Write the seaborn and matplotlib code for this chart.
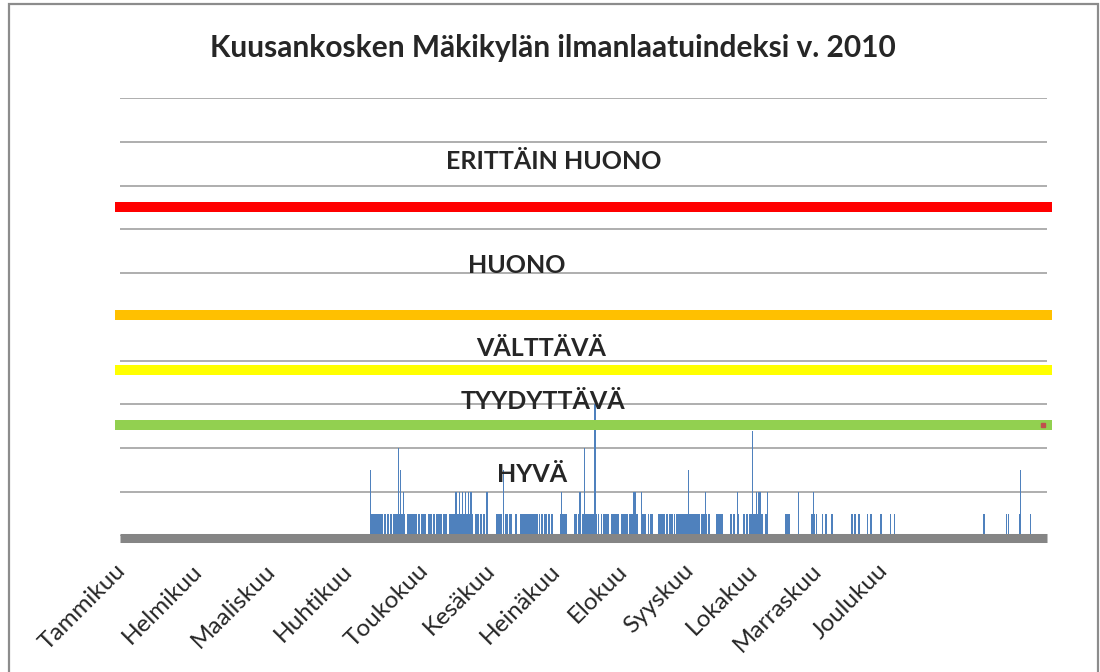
import matplotlib
matplotlib.use("Agg")
import matplotlib.pyplot as plt
import seaborn as sns
import pandas as pd
from matplotlib.patches import Rectangle
from matplotlib.transforms import ScaledTranslation

# --- data -------------------------------------------------------------------
months = ["Tammikuu", "Helmikuu", "Maaliskuu", "Huhtikuu", "Toukokuu", "Kesäkuu",
          "Heinäkuu", "Elokuu", "Syyskuu", "Lokakuu", "Marraskuu", "Joulukuu"]
month_pos = [2, 32, 61, 91, 121, 147.5, 173, 199.5, 225.5, 250.5, 276, 302]

# periods (day of year) with a "good" index reading
typical_index = 12.5
run_start = [98.8, 103.9, 105.0, 106.3, 107.6, 108.3, 113.1, 117.4, 118.4, 121.4, 123.1,
             124.4, 127.3, 129.6, 139.8, 141.7, 142.8, 148.0, 150.8, 151.6, 153.2, 155.5,
             157.5, 165.0, 165.8, 166.8, 168.4, 169.6, 173.2, 178.7, 180.2, 181.8, 188.3,
             189.3, 190.2, 193.2, 197.1, 200.5, 205.4, 207.7, 208.7, 211.9, 215.0, 216.3,
             218.1, 218.9, 224.1, 228.7, 229.6, 231.6, 234.6, 240.1, 241.2, 242.8, 245.4,
             246.4, 247.8, 253.9, 261.8, 272.1, 274.0, 276.4, 277.6, 279.8, 288.0, 289.1,
             290.7, 294.0, 295.5, 299.2, 303.0, 304.6, 339.7, 343.2, 348.7, 349.6, 353.8,
             358.4]
run_end = [103.4, 104.7, 106.0, 107.0, 108.1, 112.2, 116.8, 118.1, 120.4, 122.7, 124.0,
           126.7, 128.6, 139.1, 141.5, 142.4, 143.7, 150.4, 151.2, 152.8, 154.3, 156.3,
           164.6, 165.4, 166.5, 168.1, 169.3, 170.5, 176.0, 179.9, 181.1, 187.8, 188.6,
           189.6, 192.5, 196.6, 200.1, 204.1, 207.3, 208.4, 209.7, 214.6, 215.9, 217.8,
           218.5, 223.7, 228.4, 229.4, 231.0, 232.5, 237.5, 241.0, 242.1, 243.8, 246.0,
           247.4, 253.3, 254.6, 263.8, 273.7, 274.5, 276.9, 278.2, 280.6, 288.6, 289.6,
           291.2, 294.6, 296.2, 299.9, 303.5, 305.2, 340.7, 343.5, 349.2, 350.1, 354.6,
           358.8]

# short higher readings
peak_day = [98.8, 109.8, 110.3, 111.5, 132.3, 133.6, 134.8, 136.1, 137.2, 138.2, 144.5,
            151.0, 173.9, 181.1, 182.9, 187.0, 202.4, 203.0, 205.5, 223.8, 230.4, 243.0,
            249.0, 250.6, 251.6, 252.2, 254.8, 267.1, 273.2, 354.6]
peak_value = [37.5, 50, 37.5, 25, 25, 25, 25, 25, 25, 25, 25,
              37.5, 25, 25, 50, 75, 25, 25, 25, 37.5, 25, 25,
              60, 25, 25, 25, 25, 25, 25, 37.5]

# class boundaries of the air quality index
limit_name = ["hyvä", "tyydyttävä", "välttävä", "huono"]
limit_value = [63, 94.5, 126, 188]
limit_color = ["#92d050", "#ffff00", "#ffc000", "#ff0000"]
base_value = 0

class_name = ["ERITTÄIN HUONO", "HUONO", "VÄLTTÄVÄ", "TYYDYTTÄVÄ", "HYVÄ"]

# --- figure -----------------------------------------------------------------
sns.set_style("white")
plt.rcParams["font.family"] = ["Lato", "DejaVu Sans"]

W, H = 1100, 672
fig = plt.figure(figsize=(W / 100, H / 100), dpi=100)
ax = fig.add_axes([120 / W, 136.3 / H, 927 / W, 437.7 / H])

bar_color = "#4f81bd"
run_width = [e - s for s, e in zip(run_start, run_end)]
ax.bar(run_start, [typical_index] * len(run_start), width=run_width,
       align="edge", color=bar_color, linewidth=0, zorder=2)
ax.bar(peak_day, peak_value, width=0.45, color=bar_color, linewidth=0, zorder=2)

limits = pd.DataFrame({
    "päivä": [0, 365] * len(limit_value),
    "indeksi": [v for v in limit_value for _ in range(2)],
    "raja": [n for n in limit_name for _ in range(2)],
})
sns.lineplot(data=limits, x="päivä", y="indeksi", hue="raja",
             palette=dict(zip(limit_name, limit_color)), linewidth=7.2,
             legend=False, ax=ax, solid_capstyle="projecting", clip_on=False,
             zorder=3, estimator=None)
base_line = sns.lineplot(x=[0, 365], y=[base_value, base_value], color="#858585",
                         linewidth=6.5, ax=ax, solid_capstyle="butt", clip_on=False,
                         zorder=3).lines[-1]
# the base line sits a couple of pixels below the zero gridline
base_line.set_transform(ax.transData + ScaledTranslation(0, -2.5 / 100, fig.dpi_scale_trans))
ax.plot([363.5], [limit_value[0]], marker="s", ms=3.5, color="#c0504d",
        zorder=4, clip_on=False)

ax.set_xlim(0, 365)
ax.set_ylim(0, 250)
ax.set_yticks(range(0, 251, 25))
ax.yaxis.grid(True, color="#a8a8a8", linewidth=1.3, zorder=1)
ax.set_axisbelow(True)
ax.set_xticks(month_pos)
ax.set_xticklabels(months, rotation=45, ha="right", va="top",
                   rotation_mode="anchor", fontsize=17.5)
ax.tick_params(left=False, labelleft=False, bottom=False, pad=14)
shift = ScaledTranslation(-10 / 100, 0, fig.dpi_scale_trans)
for lbl in ax.get_xticklabels():
    lbl.set_transform(lbl.get_transform() + shift)
ax.set_xlabel("")
ax.set_ylabel("")
for sp in ax.spines.values():
    sp.set_visible(False)

label_pos = [(170.7, 209.3), (156.3, 150.0), (165.9, 102.6), (166.5, 72.4), (162.2, 30.8)]
for name, (x, y) in zip(class_name, label_pos):
    ax.text(x, y, name, ha="center", va="baseline", fontsize=18,
            fontweight="bold", zorder=5)

fig.text(552.5 / W, 1 - 57 / H, "Kuusankosken Mäkikylän ilmanlaatuindeksi v. 2010",
         ha="center", va="baseline", fontsize=21.5, fontweight="bold")

fig.patches.append(Rectangle((9 / W, -0.02), (1098 - 9) / W, 1.02 - 4 / H,
                             transform=fig.transFigure, fill=False,
                             edgecolor="#8c8c8c", linewidth=1.6))

fig.savefig("out.png", dpi=100)
